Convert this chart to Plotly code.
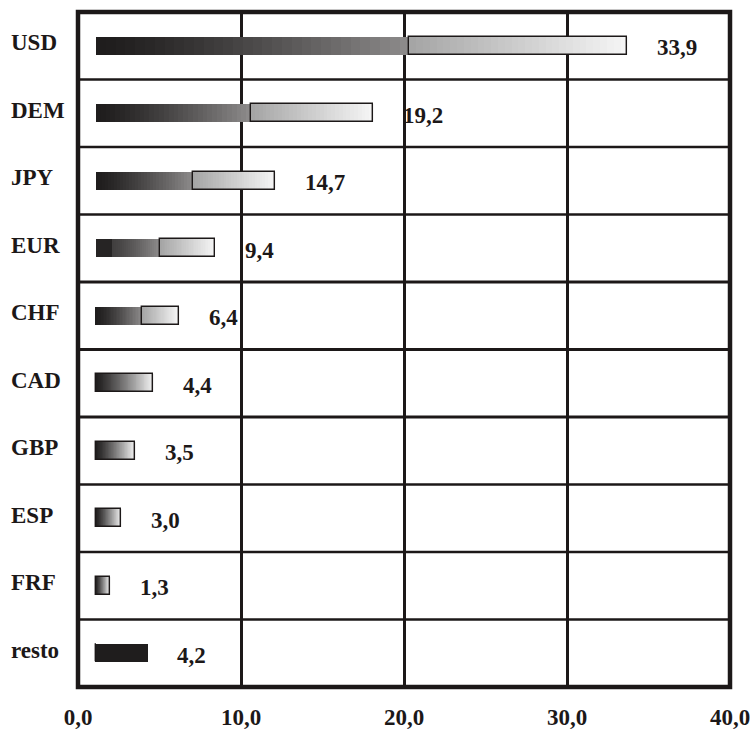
import plotly.graph_objects as go

# ---- data ----
currencies = ["USD", "DEM", "JPY", "EUR", "CHF", "CAD", "GBP", "ESP", "FRF", "resto"]
shares = [33.9, 19.2, 14.7, 9.4, 6.4, 4.4, 3.5, 3.0, 1.3, 4.2]
share_labels = ["33,9", "19,2", "14,7", "9,4", "6,4", "4,4", "3,5", "3,0", "1,3", "4,2"]
bar_left = 1.1  # bars as drawn start slightly right of zero
bar_right = [33.7, 18.1, 12.1, 8.4, 6.2, 4.6, 3.5, 2.65, 1.95, 4.25]
x_ticks = [0, 10, 20, 30, 40]
x_tick_labels = ["0,0", "10,0", "20,0", "30,0", "40,0"]

# ---- styles (gradient look of each bar) ----
bar_styles = {
    "USD": ("two", 0.59, 0.0), "DEM": ("two", 0.56, 0.0), "JPY": ("two", 0.54, 0.0),
    "EUR": ("two", 0.54, 0.13), "CHF": ("two", 0.56, 0.0),
    "CAD": ("one", 0.0, 0.0), "GBP": ("one", 0.0, 0.0), "ESP": ("one", 0.0, 0.0),
    "FRF": ("one", 0.0, 0.0), "resto": ("solid", 0.0, 0.0),
}
INK = "#1c1818"
FONT = "Liberation Serif"
FS = 23


def hex2rgb(h):
    h = h.lstrip("#")
    return [int(h[i:i + 2], 16) for i in (0, 2, 4)]


def lerp(c0, c1, t):
    a, b = hex2rgb(c0), hex2rgb(c1)
    return "rgb(%d,%d,%d)" % tuple(round(a[i] + (b[i] - a[i]) * t) for i in range(3))


N = 32


def segments(style):
    kind, brk, cap = style
    segs = []
    if kind == "two":
        for k in range(N):
            u0, u1 = brk * k / N, brk * (k + 1) / N
            um = (u0 + u1) / 2
            if um < cap:
                col = "#262424"
            else:
                t = (um - cap) / (brk - cap)
                col = lerp("#403e3e" if cap > 0 else "#1e1c1c", "#8e8c8c", t ** 1.3)
            segs.append((u0, u1, col))
        for k in range(N):
            u0, u1 = brk + (1 - brk) * k / N, brk + (1 - brk) * (k + 1) / N
            t = (k + 0.5) / N
            segs.append((u0, u1, lerp("#a4a4a4", "#f6f6f6", t)))
    elif kind == "one":
        for k in range(2 * N):
            u0, u1 = k / (2 * N), (k + 1) / (2 * N)
            t = (k + 0.5) / (2 * N)
            segs.append((u0, u1, lerp("#1e1c1c", "#f2f2f2", t ** 1.2)))
    else:
        for k in range(2 * N):
            segs.append((k / (2 * N), (k + 1) / (2 * N), "#1f1d1d"))
    return segs


all_segs = [segments(bar_styles[c]) for c in currencies]
lengths = [r - bar_left for r in bar_right]
BW = 0.27

fig = go.Figure()
nseg = len(all_segs[0])
for k in range(nseg):
    bases, xs, cols = [], [], []
    for i, c in enumerate(currencies):
        u0, u1, col = all_segs[i][k]
        bases.append(bar_left + u0 * lengths[i])
        xs.append((u1 - u0) * lengths[i] + 0.03)
        cols.append(col)
    fig.add_trace(go.Bar(
        y=currencies, x=xs, base=bases, orientation="h", width=BW,
        marker=dict(color=cols, line=dict(width=0)),
        hoverinfo="skip", showlegend=False,
    ))

# outlines of the light part of each bar
ob, ox = [], []
for i, c in enumerate(currencies):
    kind, brk, cap = bar_styles[c]
    if kind == "solid":
        ob.append(bar_left)
        ox.append(0)
    else:
        ob.append(bar_left + brk * lengths[i])
        ox.append((1 - brk) * lengths[i])
fig.add_trace(go.Bar(
    y=currencies, x=ox, base=ob, orientation="h", width=BW,
    marker=dict(color="rgba(0,0,0,0)", line=dict(color=INK, width=1.4)),
    hoverinfo="skip", showlegend=False,
))

annotations = []
for i, c in enumerate(currencies):
    annotations.append(dict(
        x=bar_right[i], y=c, xref="x", yref="y", text=share_labels[i],
        showarrow=False, xanchor="left", xshift=28, yshift=-2,
        font=dict(family=FONT, size=FS, color=INK, weight="bold"),
    ))
    annotations.append(dict(
        x=-0.106, y=c, xref="paper", yref="y", text=c,
        showarrow=False, xanchor="left", yshift=3,
        font=dict(family=FONT, size=FS, color=INK, weight="bold"),
    ))

shapes = []
for i in range(len(currencies) - 1):
    shapes.append(dict(
        type="line", xref="paper", x0=0, x1=1, yref="y", y0=i + 0.5, y1=i + 0.5,
        line=dict(color=INK, width=3 if i in (3, 4, 5) else 2.5), layer="below",
    ))
shapes.append(dict(
    type="rect", xref="paper", yref="paper", x0=0, x1=1, y0=0, y1=1,
    line=dict(color=INK, width=4.5), fillcolor="rgba(0,0,0,0)",
))

fig.update_layout(
    width=753, height=732,
    margin=dict(l=78, r=23, t=12, b=45),
    barmode="overlay", bargap=0,
    plot_bgcolor="white", paper_bgcolor="white",
    xaxis=dict(
        range=[0, 40], tickvals=x_ticks, ticktext=x_tick_labels,
        showgrid=True, gridcolor=INK, gridwidth=3, zeroline=False,
        ticks="", ticklabelstandoff=14, showline=False,
        automargin=False, ticklabeloverflow="allow",
        tickfont=dict(family=FONT, size=FS, color=INK, weight="bold"),
    ),
    yaxis=dict(
        type="category", categoryorder="array", categoryarray=currencies,
        range=[len(currencies) - 0.5, -0.5], showticklabels=False,
        showgrid=False, zeroline=False, ticks="", automargin=False,
    ),
    annotations=annotations, shapes=shapes,
)

# remove the page's default body margin so the figure fills the window exactly
fig.write_html(
    "out.html",
    config={"displayModeBar": False},
    post_script="document.body.style.margin='0px';document.body.style.overflow='hidden';",
)
